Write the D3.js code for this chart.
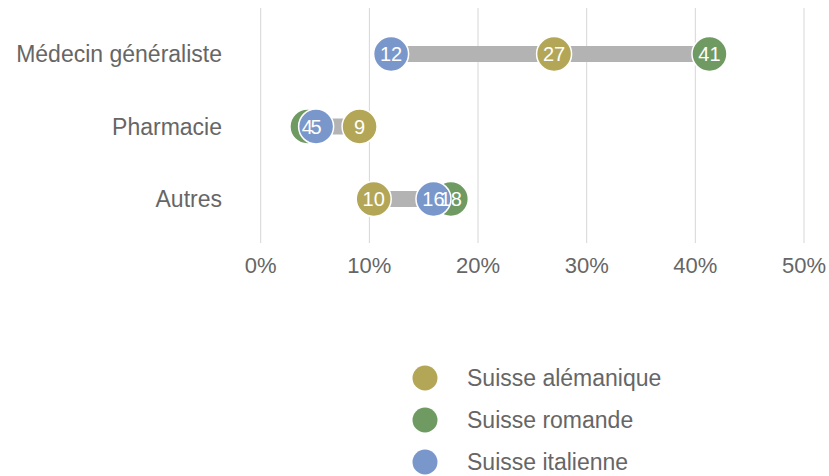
<!DOCTYPE html>
<html>
<head>
<meta charset="utf-8">
<script src="https://cdn.jsdelivr.net/npm/d3@7"></script>
<style>
body { margin: 0; background: #fff; font-family: "Liberation Sans", Arial, sans-serif; }
</style>
</head>
<body>
<div id="chart"></div>
<script>
let width = 829
let height = 476

// data (percent)
let categories = ['Médecin généraliste', 'Pharmacie', 'Autres']
let series = ['Suisse alémanique', 'Suisse romande', 'Suisse italienne']
let colors = ['#b3a757', '#6f9a62', '#7a97cb']
let alemanique = [27, 9.1, 10.4]
let romande = [41.3, 4.3, 17.5]
let italienne = [12, 5.1, 15.9]
let ticks = [0, 10, 20, 30, 40, 50]

let values = [alemanique, romande, italienne]

let svg = d3.select('#chart').append('svg')
    .attr('width', width)
    .attr('height', height)

let x = d3.scaleLinear()
    .domain([0, 50])
    .range([260.7, 804])
let y = d3.scalePoint()
    .domain(categories)
    .range([54, 199])

// grid lines
svg.append('g')
    .selectAll('line')
    .data(ticks)
    .join('line')
    .attr('x1', d => x(d))
    .attr('x2', d => x(d))
    .attr('y1', 8)
    .attr('y2', 243)
    .attr('stroke', '#d6d6d6')
    .attr('stroke-width', 1)

// tick labels
svg.append('g')
    .selectAll('text')
    .data(ticks)
    .join('text')
    .attr('x', d => x(d))
    .attr('y', 273)
    .attr('text-anchor', 'middle')
    .attr('font-size', 22)
    .attr('fill', '#666')
    .text(d => d + '%')

// category labels
svg.append('g')
    .selectAll('text')
    .data(categories)
    .join('text')
    .attr('x', 222)
    .attr('y', d => y(d))
    .attr('dy', '0.35em')
    .attr('text-anchor', 'end')
    .attr('font-size', 23)
    .attr('fill', '#666')
    .text(d => d)

// range bars
let rows = categories.map((c, i) => ({
    cat: c,
    min: d3.min(values, s => s[i]),
    max: d3.max(values, s => s[i])
}))
svg.append('g')
    .selectAll('rect')
    .data(rows)
    .join('rect')
    .attr('x', d => x(d.min))
    .attr('width', d => x(d.max) - x(d.min))
    .attr('y', d => y(d.cat) - 8)
    .attr('height', 16)
    .attr('fill', '#b3b3b3')

// dots
let points = []
values.forEach((s, si) => {
    s.forEach((v, i) => points.push({ cat: categories[i], v: v, color: colors[si] }))
})
svg.append('g')
    .selectAll('circle')
    .data(points)
    .join('circle')
    .attr('cx', d => x(d.v))
    .attr('cy', d => y(d.cat))
    .attr('r', 17.5)
    .attr('fill', d => d.color)
    .attr('stroke', '#fff')
    .attr('stroke-width', 1.5)

svg.append('g')
    .selectAll('text')
    .data(points)
    .join('text')
    .attr('x', d => x(d.v))
    .attr('y', d => y(d.cat))
    .attr('dy', '0.35em')
    .attr('text-anchor', 'middle')
    .attr('font-size', 20)
    .attr('fill', '#fff')
    .text(d => Math.round(d.v))

// legend
let legend = svg.append('g')
    .selectAll('g')
    .data(series)
    .join('g')
    .attr('transform', (d, i) => `translate(425,${378 + i * 42})`)
legend.append('circle')
    .attr('r', 12.5)
    .attr('fill', (d, i) => colors[i])
legend.append('text')
    .attr('x', 42)
    .attr('dy', '0.35em')
    .attr('font-size', 23)
    .attr('fill', '#666')
    .text(d => d)
</script>
</body>
</html>
